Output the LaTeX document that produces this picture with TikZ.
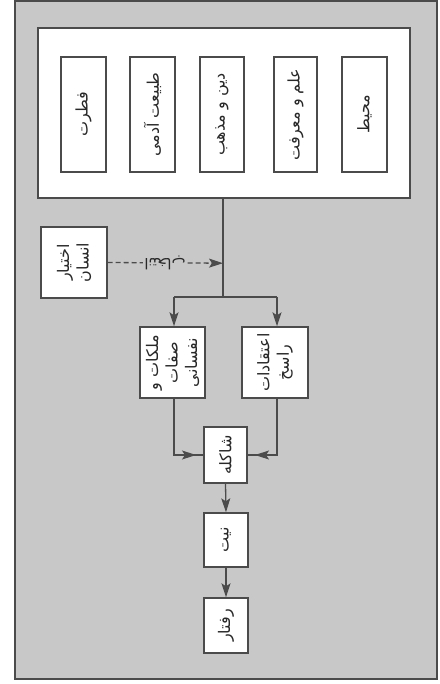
\documentclass[tikz,border=0pt]{standalone}
\usepackage{fontspec}
\newfontfamily\pf[Script=Arabic]{DejaVu Sans}
\TeXXeTstate=1
\usetikzlibrary{arrows.meta,calc}
\definecolor{bgc}{RGB}{200,200,200}
\definecolor{linec}{RGB}{75,75,75}
\definecolor{txtc}{RGB}{40,40,40}
\begin{document}
\begin{tikzpicture}[x=1pt,y=-1pt,
  box/.style={draw=linec, fill=white, line width=1.4pt, inner sep=0pt},
  txt/.style={rotate=90, align=center, text=txtc, font=\pf\fontsize{16}{19.5}\selectfont},
  conn/.style={draw=linec, line width=1.3pt},
  tip/.tip={Stealth[length=14pt,width=9pt,inset=3pt]},
  arr/.style={conn, -tip},
]
\useasboundingbox (0,0) rectangle (439,684);
\fill[bgc] (15,1) rectangle (437,679);
\draw[linec, line width=1.3pt] (15,1) rectangle (437,679);

% top container
\node[box, minimum width=372pt, minimum height=170pt] (big) at (224,113) {};
\node[box, minimum width=45pt, minimum height=115pt, label={[txt]center:{\beginR فطرت\endR}}] (fitrat) at (83.5,114.5) {};
\node[box, minimum width=45pt, minimum height=115pt, label={[txt]center:{\beginR طبیعت آدمی\endR}}] (tabiat) at (152.5,114.5) {};
\node[box, minimum width=44pt, minimum height=115pt, label={[txt]center:{\beginR دین و مذهب\endR}}] (din) at (222,114.5) {};
\node[box, minimum width=43pt, minimum height=115pt, label={[txt]center:{\beginR علم و معرفت\endR}}] (elm) at (295.5,114.5) {};
\node[box, minimum width=45pt, minimum height=115pt, label={[txt]center:{\beginR محیط\endR}}] (mohit) at (364.5,114.5) {};

% side box
\node[box, minimum width=66pt, minimum height=71pt, label={[txt]center:{\beginR اختیار\endR\\\beginR انسان\endR}}] (ekh) at (74,262.5) {};

% middle boxes
\node[box, minimum width=65pt, minimum height=71pt, label={[txt]center:{\beginR ملکات و\endR\\\beginR صفات\endR\\\beginR نفسانی\endR}}] (malak) at (172.5,362.5) {};
\node[box, minimum width=66pt, minimum height=71pt, label={[txt]center:{\beginR اعتقادات\endR\\\beginR راسخ\endR}}] (eteq) at (275,362.5) {};

% chain
\node[box, minimum width=43pt, minimum height=56pt, label={[txt]center:{\beginR شاکله\endR}}] (shak) at (225.5,455) {};
\node[box, minimum width=44pt, minimum height=54pt, label={[txt]center:{\beginR نیت\endR}}] (niat) at (226,540) {};
\node[box, minimum width=44pt, minimum height=55pt, label={[txt]center:{\beginR رفتار\endR}}] (raftar) at (226,625.5) {};

% trunk
\coordinate (junc) at ($(big.south)+(-1,99)$);
\coordinate (jl) at (174,297);
\coordinate (jr) at (277,297);
\coordinate (dj) at ($(big.south)+(-1,64.5)$);
\draw[conn] ($(big.south)+(-1,0)$) -- (junc);
\draw[conn] (jl) -- (jr);
\draw[arr] (jl) -- (jl |- malak.north);
\draw[arr] (jr) -- (jr |- eteq.north);

% dashed influence
\draw[conn, dash pattern=on 5pt off 3pt, -tip] (ekh.east) -- (dj);
\node[fill=bgc, rotate=180, text=txtc, font=\pf\fontsize{15}{16}\selectfont, inner sep=1pt] (lbl) at (165,262.5) {\beginR انتخاب\endR};

% into shakele
\coordinate (ml) at (174,455);
\coordinate (mr) at (277,455);
\draw[conn] (jl |- malak.south) -- (ml) -- (shak.west);
\draw[arr] (ml) -- ($(ml)!0.75!(shak.west)$);
\draw[conn] (jr |- eteq.south) -- (mr) -- (shak.east);
\draw[arr] (mr) -- ($(mr)!0.75!(shak.east)$);

% chain arrows
\draw[arr] (shak.south) -- (niat.north);
\draw[arr] (niat.south) -- (raftar.north);
\end{tikzpicture}
\end{document}
